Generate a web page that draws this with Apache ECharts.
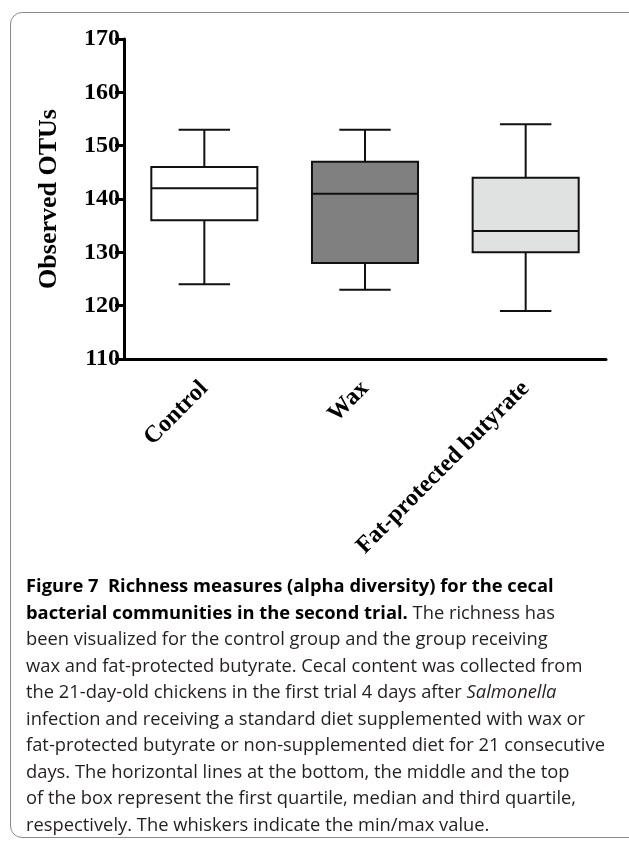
<!DOCTYPE html>
<html>
<head>
<meta charset="utf-8">
<script src="https://cdn.jsdelivr.net/npm/echarts@6/dist/echarts.min.js"></script>
<style>
  html, body { margin:0; padding:0; background:#fff; }
  #wrap { position:relative; width:629px; height:845px; overflow:hidden; }
  #frame { position:absolute; left:10px; top:12px; width:640px; height:826px; border:1px solid #8a8a8a; border-radius:12px; box-sizing:border-box; }
  #chart { position:absolute; left:0; top:0; width:629px; height:845px; }
  #caption { position:absolute; left:26px; top:572px; font-family:"Open Sans", "Noto Sans", sans-serif; font-size:18px; line-height:26.5px; color:#231f20; white-space:nowrap; }
  #caption .ln { display:block; }
  #caption b { color:#000; font-weight:700; }
</style>
</head>
<body>
<div id="wrap">
  <div id="frame"></div>
  <div id="chart"></div>
  <div id="caption">
    <span class="ln"><b>Figure 7&nbsp;&nbsp;Richness measures (alpha diversity) for the cecal</b></span>
    <span class="ln"><b>bacterial communities in the second trial.</b> The richness has</span>
    <span class="ln" id="refline">been visualized for the control group and the group receiving</span>
    <span class="ln">wax and fat-protected butyrate. Cecal content was collected from</span>
    <span class="ln">the 21-day-old chickens in the first trial 4 days after <i>Salmonella</i></span>
    <span class="ln">infection and receiving a standard diet supplemented with wax or</span>
    <span class="ln">fat-protected butyrate or non-supplemented diet for 21 consecutive</span>
    <span class="ln">days. The horizontal lines at the bottom, the middle and the top</span>
    <span class="ln">of the box represent the first quartile, median and third quartile,</span>
    <span class="ln">respectively. The whiskers indicate the min/max value.</span>
  </div>
</div>
<script>
const categories = ['Control', 'Wax', 'Fat-protected butyrate'];
const mins    = [124, 123, 119];
const q1s     = [136, 128, 130];
const medians = [142, 141, 134];
const q3s     = [146, 147, 144];
const maxs    = [153, 153, 154];
const fills   = ['#ffffff', '#808080', '#e0e2e1'];
const yTicks  = [110, 120, 130, 140, 150, 160, 170];

// fit caption font so the reference line spans ~522px
(function () {
  const cap = document.getElementById('caption');
  const ref = document.getElementById('refline');
  ref.style.display = 'inline-block';
  const w = ref.getBoundingClientRect().width;
  ref.style.display = 'block';
  if (w > 0) cap.style.fontSize = (18 * 522 / w).toFixed(2) + 'px';
})();

const data = categories.map((c, i) => [i, mins[i], q1s[i], medians[i], q3s[i], maxs[i]]);

const chart = echarts.init(document.getElementById('chart'));
const serif = '"Liberation Serif", "Times New Roman", serif';
chart.setOption({
  animation: false,
  grid: { left: 124, right: 23, top: 39, bottom: 486 },
  xAxis: {
    type: 'category',
    data: categories,
    axisLine: { lineStyle: { color: '#000', width: 3 } },
    axisTick: { alignWithLabel: true, length: 7, lineStyle: { color: '#000', width: 3 } },
    axisLabel: { rotate: 45, margin: 26, padding: [0, 0, 0, 0], color: '#000', fontFamily: serif, fontWeight: 'bold', fontSize: 24 }
  },
  yAxis: {
    type: 'value',
    min: yTicks[0], max: yTicks[yTicks.length - 1], interval: 10,
    name: 'Observed OTUs',
    nameLocation: 'middle',
    nameRotate: 90,
    nameGap: 62,
    nameTextStyle: { color: '#000', fontFamily: serif, fontWeight: 'bold', fontSize: 26 },
    axisLine: { show: true, lineStyle: { color: '#000', width: 3 } },
    axisTick: { show: true, length: 9, lineStyle: { color: '#000', width: 3 } },
    axisLabel: { margin: 4, color: '#000', fontFamily: serif, fontWeight: 'bold', fontSize: 24 },
    splitLine: { show: false }
  },
  series: [{
    type: 'custom',
    data: data,
    encode: { x: 0, y: [1, 2, 3, 4, 5] },
    renderItem: function (params, api) {
      const xi = api.value(0);
      const band = api.size([1, 0])[0];
      const bw = band * 0.66;
      const cw = band * 0.32;
      const pMin = api.coord([xi, api.value(1)]);
      const pQ1 = api.coord([xi, api.value(2)]);
      const pMed = api.coord([xi, api.value(3)]);
      const pQ3 = api.coord([xi, api.value(4)]);
      const pMax = api.coord([xi, api.value(5)]);
      const cx = pMin[0];
      const ls = { stroke: '#111', lineWidth: 2 };
      return {
        type: 'group',
        children: [
          { type: 'line', shape: { x1: cx, y1: pMax[1], x2: cx, y2: pQ3[1] }, style: ls },
          { type: 'line', shape: { x1: cx, y1: pQ1[1], x2: cx, y2: pMin[1] }, style: ls },
          { type: 'line', shape: { x1: cx - cw / 2, y1: pMax[1], x2: cx + cw / 2, y2: pMax[1] }, style: ls },
          { type: 'line', shape: { x1: cx - cw / 2, y1: pMin[1], x2: cx + cw / 2, y2: pMin[1] }, style: ls },
          { type: 'rect', shape: { x: cx - bw / 2, y: pQ3[1], width: bw, height: pQ1[1] - pQ3[1] },
            style: { fill: fills[params.dataIndex], stroke: '#111', lineWidth: 2 } },
          { type: 'line', shape: { x1: cx - bw / 2, y1: pMed[1], x2: cx + bw / 2, y2: pMed[1] }, style: ls }
        ]
      };
    }
  }]
});
</script>
</body>
</html>
